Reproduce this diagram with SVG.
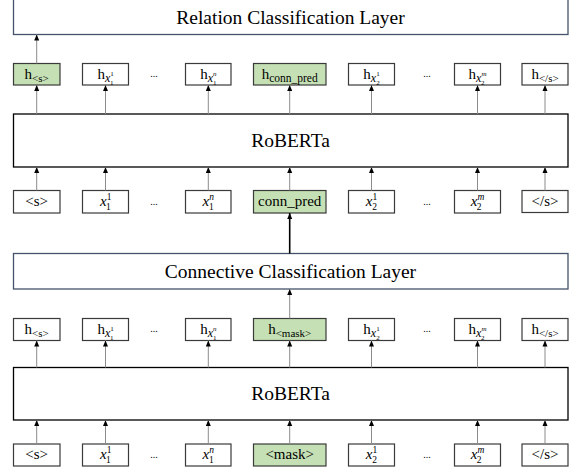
<svg xmlns="http://www.w3.org/2000/svg" width="574" height="475" viewBox="0 0 574 475">
<defs>
<marker id="ah" viewBox="0 0 6 6" refX="6" refY="3" markerWidth="6" markerHeight="6" markerUnits="userSpaceOnUse" orient="auto">
<path d="M0,0.5 L6,3 L0,5.5 Z" fill="#000"/>
</marker>
<style>
text{font-family:"Liberation Serif","Times New Roman",serif;fill:#000}
.layer{fill:#fff;stroke:#44546A;stroke-width:1.3}
.rob{fill:#fff;stroke:#000;stroke-width:1.3}
.box{fill:#fff;stroke:#3a3a3a;stroke-width:1.2}
.g{fill:#C5E0B4}
.t{font-size:15px;text-anchor:middle}
.big{font-size:19.5px;text-anchor:middle}
.it{font-style:italic}
.dots{font-size:10px;text-anchor:middle}
.a{stroke:#8c8c8c;stroke-width:1;fill:none;marker-end:url(#ah)}
.ak{stroke:#000;stroke-width:1.6;fill:none;marker-end:url(#ah)}
</style>
</defs>

<g id="relation-layer"><rect class="layer" x="13.5" y="-1" width="554.5" height="35.5"/><text class="big" x="290.5" y="24">Relation Classification Layer</text></g>

<g id="h-top-s"><rect class="box g" x="13.5" y="63.5" width="46.5" height="21.5"/><text class="t" x="36.7" y="79">h<tspan font-size="11" dy="3">&lt;s&gt;</tspan></text></g>
<g id="h-top-x11"><rect class="box" x="82.5" y="63.5" width="46" height="21.5"/><text class="t" x="105.5" y="79">h<tspan class="it" font-size="12" dy="3">x</tspan><tspan font-size="7" dy="-6">1</tspan><tspan font-size="7" dx="-3.5" dy="9">1</tspan></text></g>
<text class="dots" x="154" y="77">...</text>
<g id="h-top-x1n"><rect class="box" x="185.5" y="63.5" width="45.5" height="21.5"/><text class="t" x="208.3" y="79">h<tspan class="it" font-size="12" dy="3">x</tspan><tspan class="it" font-size="7" dy="-6">n</tspan><tspan font-size="7" dx="-3.5" dy="9">1</tspan></text></g>
<g id="h-top-conn"><rect class="box g" x="253.5" y="63.5" width="72.5" height="21.5"/><text class="t" x="289.7" y="79">h<tspan font-size="11.5" dy="3">conn_pred</tspan></text></g>
<g id="h-top-x21"><rect class="box" x="348.5" y="63.5" width="46" height="21.5"/><text class="t" x="371.5" y="79">h<tspan class="it" font-size="12" dy="3">x</tspan><tspan font-size="7" dy="-6">1</tspan><tspan font-size="7" dx="-3.5" dy="9">2</tspan></text></g>
<text class="dots" x="427" y="77">...</text>
<g id="h-top-x2m"><rect class="box" x="454.5" y="63.5" width="46" height="21.5"/><text class="t" x="477.5" y="79">h<tspan class="it" font-size="12" dy="3">x</tspan><tspan class="it" font-size="7" dy="-6">m</tspan><tspan font-size="7" dx="-5.5" dy="9">2</tspan></text></g>
<g id="h-top-end"><rect class="box" x="522" y="63.5" width="46" height="21.5"/><text class="t" x="545" y="79">h<tspan font-size="11" dy="3">&lt;/s&gt;</tspan></text></g>

<g id="roberta-top"><rect class="rob" x="13.5" y="114" width="554.5" height="53"/><text class="big" x="290.5" y="147">RoBERTa</text></g>

<g id="in-top-s"><rect class="box" x="13.5" y="190.5" width="46.5" height="22.5"/><text class="t" x="36.7" y="206" font-size="12">&lt;s&gt;</text></g>
<g id="in-top-x11"><rect class="box" x="82.5" y="190.5" width="46" height="22.5"/><text class="t" x="105.5" y="206"><tspan class="it">x</tspan><tspan font-size="9.5" dy="-6">1</tspan><tspan font-size="9.5" dx="-5" dy="10">1</tspan></text></g>
<text class="dots" x="154" y="205">...</text>
<g id="in-top-x1n"><rect class="box" x="185.5" y="190.5" width="45.5" height="22.5"/><text class="t" x="208.3" y="206"><tspan class="it">x</tspan><tspan class="it" font-size="9.5" dy="-6">n</tspan><tspan font-size="9.5" dx="-5" dy="10">1</tspan></text></g>
<g id="in-top-conn"><rect class="box g" x="253.5" y="190.5" width="72.5" height="22.5"/><text class="t" x="289.7" y="206">conn_pred</text></g>
<g id="in-top-x21"><rect class="box" x="348.5" y="190.5" width="46" height="22.5"/><text class="t" x="371.5" y="206"><tspan class="it">x</tspan><tspan font-size="9.5" dy="-6">1</tspan><tspan font-size="9.5" dx="-5" dy="10">2</tspan></text></g>
<text class="dots" x="427" y="205">...</text>
<g id="in-top-x2m"><rect class="box" x="454.5" y="190.5" width="46" height="22.5"/><text class="t" x="477.5" y="206"><tspan class="it">x</tspan><tspan class="it" font-size="9.5" dy="-6">m</tspan><tspan font-size="9.5" dx="-7.5" dy="10">2</tspan></text></g>
<g id="in-top-end"><rect class="box" x="522" y="190.5" width="46" height="22" /><text class="t" x="545" y="206" font-size="12">&lt;/s&gt;</text></g>

<g id="connective-layer"><rect class="layer" x="13.5" y="253.5" width="554.5" height="35.5"/><text class="big" x="290.5" y="278">Connective Classification Layer</text></g>

<g id="h-bot-s"><rect class="box" x="13.5" y="318.5" width="46.5" height="22"/><text class="t" x="36.7" y="334">h<tspan font-size="11" dy="3">&lt;s&gt;</tspan></text></g>
<g id="h-bot-x11"><rect class="box" x="82.5" y="318.5" width="46" height="22"/><text class="t" x="105.5" y="334">h<tspan class="it" font-size="12" dy="3">x</tspan><tspan font-size="7" dy="-6">1</tspan><tspan font-size="7" dx="-3.5" dy="9">1</tspan></text></g>
<text class="dots" x="154" y="332">...</text>
<g id="h-bot-x1n"><rect class="box" x="185.5" y="318.5" width="45.5" height="22"/><text class="t" x="208.3" y="334">h<tspan class="it" font-size="12" dy="3">x</tspan><tspan class="it" font-size="7" dy="-6">n</tspan><tspan font-size="7" dx="-3.5" dy="9">1</tspan></text></g>
<g id="h-bot-mask"><rect class="box g" x="253.5" y="318.5" width="72.5" height="22"/><text class="t" x="289.7" y="334">h<tspan font-size="11" dy="3">&lt;mask&gt;</tspan></text></g>
<g id="h-bot-x21"><rect class="box" x="348.5" y="318.5" width="46" height="22"/><text class="t" x="371.5" y="334">h<tspan class="it" font-size="12" dy="3">x</tspan><tspan font-size="7" dy="-6">1</tspan><tspan font-size="7" dx="-3.5" dy="9">2</tspan></text></g>
<text class="dots" x="427" y="332">...</text>
<g id="h-bot-x2m"><rect class="box" x="454.5" y="318.5" width="46" height="22"/><text class="t" x="477.5" y="334">h<tspan class="it" font-size="12" dy="3">x</tspan><tspan class="it" font-size="7" dy="-6">m</tspan><tspan font-size="7" dx="-5.5" dy="9">2</tspan></text></g>
<g id="h-bot-end"><rect class="box" x="522" y="318.5" width="46" height="22"/><text class="t" x="545" y="334">h<tspan font-size="11" dy="3">&lt;/s&gt;</tspan></text></g>

<g id="roberta-bot"><rect class="rob" x="13.5" y="367.5" width="554.5" height="52.5"/><text class="big" x="290.5" y="400">RoBERTa</text></g>

<g id="in-bot-s"><rect class="box" x="13.5" y="444" width="46.5" height="22"/><text class="t" x="36.7" y="459" font-size="12">&lt;s&gt;</text></g>
<g id="in-bot-x11"><rect class="box" x="82.5" y="444" width="46" height="22"/><text class="t" x="105.5" y="459"><tspan class="it">x</tspan><tspan font-size="9.5" dy="-6">1</tspan><tspan font-size="9.5" dx="-5" dy="10">1</tspan></text></g>
<text class="dots" x="154" y="458">...</text>
<g id="in-bot-x1n"><rect class="box" x="185.5" y="444" width="45.5" height="22"/><text class="t" x="208.3" y="459"><tspan class="it">x</tspan><tspan class="it" font-size="9.5" dy="-6">n</tspan><tspan font-size="9.5" dx="-5" dy="10">1</tspan></text></g>
<g id="in-bot-mask"><rect class="box g" x="253.5" y="444" width="72.5" height="22"/><text class="t" x="289.7" y="459" font-size="12">&lt;mask&gt;</text></g>
<g id="in-bot-x21"><rect class="box" x="348.5" y="444" width="46" height="22"/><text class="t" x="371.5" y="459"><tspan class="it">x</tspan><tspan font-size="9.5" dy="-6">1</tspan><tspan font-size="9.5" dx="-5" dy="10">2</tspan></text></g>
<text class="dots" x="427" y="458">...</text>
<g id="in-bot-x2m"><rect class="box" x="454.5" y="444" width="46" height="22"/><text class="t" x="477.5" y="459"><tspan class="it">x</tspan><tspan class="it" font-size="9.5" dy="-6">m</tspan><tspan font-size="9.5" dx="-7.5" dy="10">2</tspan></text></g>
<g id="in-bot-end"><rect class="box" x="522" y="444" width="46" height="22"/><text class="t" x="545" y="459" font-size="12">&lt;/s&gt;</text></g>

<g id="connectors">
<path class="a" d="M36.7,63.5 V34.5"/>
<path class="a" d="M36.7,114 V85"/>
<path class="a" d="M105.5,114 V85"/>
<path class="a" d="M208.3,114 V85"/>
<path class="a" d="M289.7,114 V85"/>
<path class="a" d="M371.5,114 V85"/>
<path class="a" d="M477.5,114 V85"/>
<path class="a" d="M545,114 V85"/>
<path class="a" d="M36.7,190.5 V167"/>
<path class="a" d="M105.5,190.5 V167"/>
<path class="a" d="M208.3,190.5 V167"/>
<path class="a" d="M289.7,190.5 V167"/>
<path class="a" d="M371.5,190.5 V167"/>
<path class="a" d="M477.5,190.5 V167"/>
<path class="a" d="M545,190.5 V167"/>
<path class="ak" d="M289.7,253.5 V213"/>
<path class="a" d="M289.7,318.5 V289"/>
<path class="a" d="M36.7,367.5 V340.5"/>
<path class="a" d="M105.5,367.5 V340.5"/>
<path class="a" d="M208.3,367.5 V340.5"/>
<path class="a" d="M289.7,367.5 V340.5"/>
<path class="a" d="M371.5,367.5 V340.5"/>
<path class="a" d="M477.5,367.5 V340.5"/>
<path class="a" d="M545,367.5 V340.5"/>
<path class="a" d="M36.7,444 V420"/>
<path class="a" d="M105.5,444 V420"/>
<path class="a" d="M208.3,444 V420"/>
<path class="a" d="M289.7,444 V420"/>
<path class="a" d="M371.5,444 V420"/>
<path class="a" d="M477.5,444 V420"/>
<path class="a" d="M545,444 V420"/>
</g>
</svg>
